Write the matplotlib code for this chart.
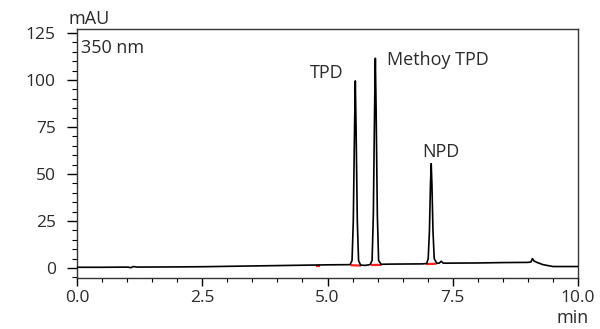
import matplotlib
matplotlib.use("Agg")
import matplotlib.pyplot as plt
from matplotlib.ticker import MultipleLocator, FormatStrFormatter

plt.rcParams['font.family'] = ['Open Sans', 'DejaVu Sans']

# Chromatogram trace (time in min, absorbance in mAU)
time_min = [0.0, 0.5, 1.0, 1.08, 1.12, 1.2, 2.0, 2.5, 3.0, 3.5, 4.0, 4.5, 5.0, 5.45,
            5.49, 5.515, 5.54, 5.555, 5.57, 5.595, 5.62, 5.66, 5.75, 5.85,
            5.89, 5.915, 5.94, 5.955, 5.97, 5.995, 6.02, 6.07, 6.3, 6.9, 6.98,
            7.01, 7.035, 7.055, 7.07, 7.085, 7.105, 7.13, 7.18, 7.23, 7.27, 7.31,
            7.4, 8.0, 8.5, 9.0, 9.06, 9.09, 9.12, 9.18, 9.3, 9.5, 10.0]
absorb_mau = [0.4, 0.4, 0.5, 0.2, 0.8, 0.5, 0.6, 0.7, 0.9, 1.1, 1.3, 1.5, 1.7, 1.8,
              4.0, 25.0, 75.0, 99.5, 75.0, 25.0, 4.0, 1.6, 1.4, 1.8,
              4.0, 28.0, 85.0, 111.5, 85.0, 28.0, 4.0, 2.0, 2.1, 2.2, 2.4,
              5.0, 20.0, 44.0, 55.5, 44.0, 20.0, 5.0, 2.6, 2.6, 3.6, 2.6,
              2.6, 2.7, 2.9, 3.0, 3.2, 5.0, 3.8, 3.0, 1.8, 0.8, 0.8]

# Integration baselines (red)
base_start = [4.78, 5.46, 5.87, 6.97]
base_end = [4.86, 5.67, 6.08, 7.18]
base_y0 = [1.3, 1.5, 1.6, 2.1]
base_y1 = [1.3, 1.3, 1.7, 2.3]

peak_names = ["TPD", "Methoy TPD", "NPD"]
label_x = [5.32, 6.18, 7.26]
label_y = [103.5, 110.5, 61.5]
label_ha = ["right", "left", "center"]

text_color = '#2a2a2a'

fig = plt.figure(figsize=(6.0, 3.29), dpi=100)
ax = fig.add_axes([77/600, 1-278/329, (578-77)/600, (278-29)/329])

for xs, xe, ys, ye in zip(base_start, base_end, base_y0, base_y1):
    ax.plot([xs, xe], [ys, ye], color='#ff2020', lw=1.6, zorder=2,
            solid_capstyle='butt')
ax.plot(time_min, absorb_mau, color='black', lw=1.2, zorder=3)

for name, x, y, ha in zip(peak_names, label_x, label_y, label_ha):
    ax.text(x, y, name, ha=ha, va='center', fontsize=13, color=text_color)

ax.set_xlim(0, 10)
ax.set_ylim(-5.3, 127.1)
ax.xaxis.set_major_locator(MultipleLocator(2.5))
ax.xaxis.set_minor_locator(MultipleLocator(0.5))
ax.yaxis.set_major_locator(MultipleLocator(25))
ax.yaxis.set_minor_locator(MultipleLocator(5))
ax.xaxis.set_major_formatter(FormatStrFormatter('%.1f'))
ax.tick_params(axis='y', which='major', direction='out', length=7.2, width=1.0,
               labelsize=12.5, labelcolor=text_color, pad=8)
ax.tick_params(axis='y', which='minor', direction='out', length=3.6, width=0.8)
ax.tick_params(axis='x', which='major', direction='out', length=5.5, width=1.0,
               labelsize=12.5, labelcolor=text_color, pad=3)
ax.tick_params(axis='x', which='minor', direction='out', length=3.2, width=0.8)
for s in ax.spines.values():
    s.set_linewidth(1.0)
    s.set_color('#333333')

ax.text(0.008, 0.925, "350 nm", transform=ax.transAxes, ha='left', va='center',
        fontsize=13, color=text_color)
fig.text(69/600, 1-19/329, "mAU", ha='left', va='center', fontsize=13, color=text_color)
fig.text(589/600, 1-318/329, "min", ha='right', va='center', fontsize=13, color=text_color)

fig.savefig("out.png", dpi=100)
